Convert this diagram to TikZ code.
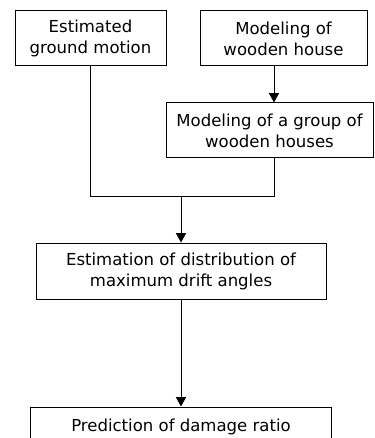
\documentclass[tikz,border=0pt]{standalone}
\usepackage{fontspec}
\setmainfont{DejaVu Sans}
\usetikzlibrary{arrows.meta}
\tikzset{every picture/.style={line width=0.75pt}}
\tikzset{
  box/.style={draw, align=center, inner sep=0pt, font=\fontsize{12.4}{15.75}\selectfont},
  arr/.style={-{Triangle[width=7.5pt,length=7pt]}}
}
\begin{document}
\begin{tikzpicture}[x=0.75pt,y=0.75pt,yscale=-1,xscale=1]
	\useasboundingbox (0,0) rectangle (374,438);
	\clip (0,0) rectangle (374,438);

	% Text Node
	\node[box, minimum width=113.25pt, minimum height=41.25pt] (ground) at (90.5,38.5) {Estimated\\ground motion};
	% Text Node
	\node[box, minimum width=125.25pt, minimum height=41.25pt] (house) at (283.5,38.5) {Modeling of\\wooden house};
	% Text Node
	\node[box, minimum width=155.25pt, minimum height=41.25pt] (group) at (269.5,130.5) {Modeling of a group of\\wooden houses};
	% Text Node
	\node[box, minimum width=217.5pt, minimum height=42pt] (drift) at (181,271) {Estimation of distribution of\\maximum drift angles};
	% Text Node
	\node[box, minimum width=225.75pt, minimum height=30pt] (damage) at (181,427) {Prediction of damage ratio};

	\coordinate (col) at (274,0);
	\coordinate (join) at (181,196);

	%Straight Lines
	\draw[arr] (house.south -| col) -- (group.north -| col);
	\draw (ground.south) |- (join);
	\draw (group.south -| col) |- (join);
	\draw[arr] (join) -- (drift.north);
	\draw[arr] (drift.south) -- (damage.north);

\end{tikzpicture}
\end{document}
